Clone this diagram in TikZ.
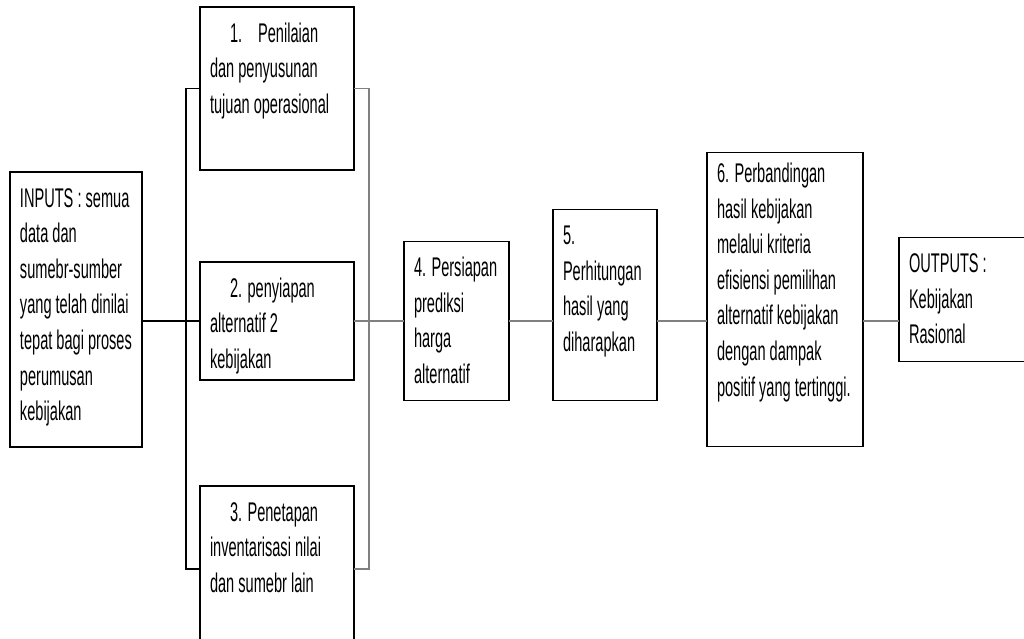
\documentclass[tikz,border=0pt]{standalone}
\usepackage{fontspec}
\setmainfont{Liberation Sans}[FakeStretch=0.54]
\usetikzlibrary{positioning}
\definecolor{wiregray}{RGB}{128,128,128}
\tikzstyle{stage}=[rectangle, draw=black, line width=0.9pt, inner sep=0pt, outer sep=0pt]
\tikzstyle{wire}=[draw=black, line width=0.8pt]
\tikzstyle{flow}=[draw=wiregray, line width=1.4pt]
% box text: [first baseline]{width}{height}{lines}
\newcommand{\stagetext}[4][17.5pt]{\parbox[c][#3][t]{#2}{\raggedright\leftskip=5pt\rule{0pt}{#1}#4}}

\begin{document}
\begin{tikzpicture}[x=0.5pt, y=-0.5pt, font=\fontsize{13.5}{17.8}\selectfont]
            \useasboundingbox (0,0) rectangle (1024,638);
            %the three tasks held between the two brackets
            \node[stage, anchor=north west](p1) at (200,7){\stagetext{77pt}{81.5pt}{\hspace*{10pt}1.\hspace{8pt}Penilaian\\dan penyusunan\\tujuan operasional}};
            \node[stage, below = 46pt of p1](p2){\stagetext{77pt}{59pt}{\hspace*{10pt}2. penyiapan\\alternatif 2\\kebijakan}};
            \node[stage, below = 53pt of p2](p3){\stagetext{77pt}{83pt}{\hspace*{10pt}3. Penetapan\\inventarisasi nilai\\dan sumebr lain}};
            \node[stage, left = 29pt of p2, yshift=5.75pt](inp){\stagetext{66pt}{137.5pt}{INPUTS : semua\\data dan\\sumebr-sumber\\yang telah dinilai\\tepat bagi proses\\perumusan\\kebijakan}};
            \coordinate[left = 7pt of p2.west](lb);
            \coordinate[right = 7.5pt of p2.east](rb);
            %the chain to the output
            \node[stage, right = 25pt of p2](p4){\stagetext{52.5pt}{79.5pt}{4. Persiapan\\prediksi\\harga\\alternatif}};
            \node[stage, right = 22pt of p4, yshift=8pt](p5){\stagetext{52pt}{95.5pt}{5.\\Perhitungan\\hasil yang\\diharapkan}};
            \node[stage, right = 25pt of p5, yshift=2.75pt](p6){\stagetext[15pt]{78pt}{147pt}{6. Perbandingan\\hasil kebijakan\\melalui kriteria\\efisiensi pemilihan\\alternatif kebijakan\\dengan dampak\\positif yang tertinggi.}};
            \node[stage, right = 18pt of p6](p7){\stagetext{65.5pt}{62pt}{OUTPUTS :\\Kebijakan\\Rasional}};
            \draw[wire] (inp.east |- lb) to (lb) to (p2.west);
            \draw[wire] (p1.west) -| (lb) |- (p3.west);
            \draw[wire, draw=wiregray] (p1.east) -| (rb) |- (p3.east);
            \draw[flow] (p2.east) to (p4.west);
            \foreach \a/\b in {p4/p5, p5/p6, p6/p7}{
                \draw[flow] (\a.east |- p4.east) to (\b.west |- p4.east);
            }
\end{tikzpicture}
\end{document}
